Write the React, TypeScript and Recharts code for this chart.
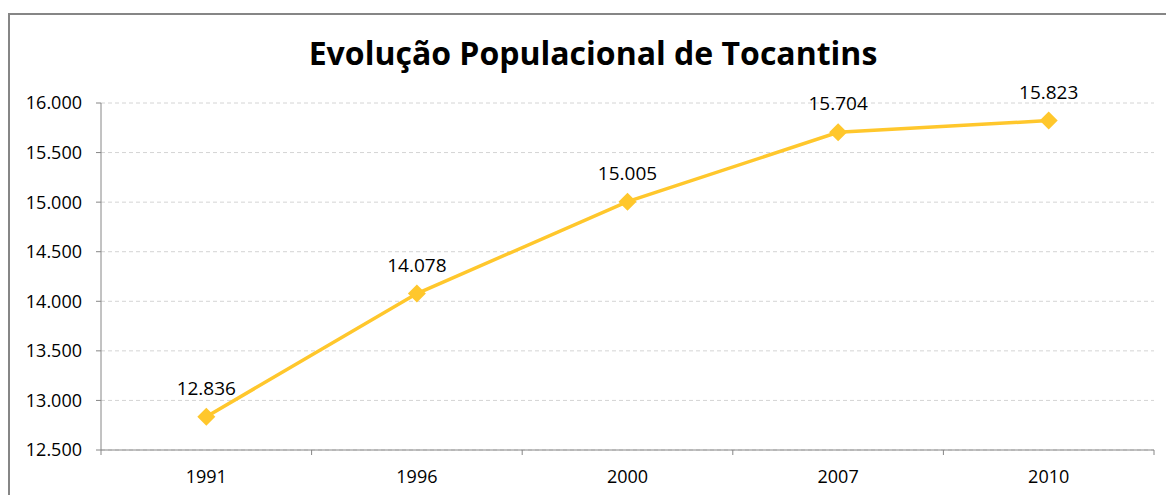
import React from 'react';
import { LineChart, Line, XAxis, YAxis, CartesianGrid, LabelList } from 'recharts';

const years = ['1991', '1996', '2000', '2007', '2010'];
const population = [12836, 14078, 15005, 15704, 15823];
const yTicks = [12500, 13000, 13500, 14000, 14500, 15000, 15500, 16000];
const title = 'Evolução Populacional de Tocantins';

const data = years.map((y, i) => ({ year: y, value: population[i] }));

const fmt = (v: number) => String(v).replace(/\B(?=(\d{3})+(?!\d))/g, '.');

const LINE = '#FFC72C';
const AXIS = '#868686';
const FONT = '"Open Sans", sans-serif';

const Diamond = (props: any) => {
  const { cx, cy, index } = props;
  if (cx == null || cy == null) return null;
  const r = 9;
  return (
    <polygon
      key={`d-${index}`}
      points={`${cx},${cy - r} ${cx + r},${cy} ${cx},${cy + r} ${cx - r},${cy}`}
      fill={LINE}
    />
  );
};

const XTick = (props: any) => {
  const { x, y, payload, index } = props;
  const off = payload && payload.offset ? payload.offset : 0;
  return (
    <g>
      <line x1={x - off} y1={y} x2={x - off} y2={y + 5} stroke={AXIS} strokeWidth={1} />
      {index === years.length - 1 && (
        <line x1={x + off} y1={y} x2={x + off} y2={y + 5} stroke={AXIS} strokeWidth={1} />
      )}
      <text x={x} y={y + 33} textAnchor="middle" fontSize={18} fontFamily={FONT} fill="#000">
        {payload.value}
      </text>
    </g>
  );
};

const PointLabel = (props: any) => {
  const { x, y, value } = props;
  return (
    <text x={x} y={y - 22} textAnchor="middle" fontSize={19} fontFamily={FONT} fill="#000">
      {fmt(value)}
    </text>
  );
};

export default function App() {
  return (
    <>
      <style>{`body{margin:0}`}</style>
      <div
        style={{
          position: 'absolute',
          left: 8,
          top: 13,
          width: 1158,
          height: 482,
          borderLeft: `2px solid ${AXIS}`,
          borderTop: `2px solid ${AXIS}`,
          boxSizing: 'border-box',
          background: '#fff',
        }}
      >
        <div
          style={{
            position: 'absolute',
            left: 0,
            top: 16,
            width: 1166,
            textAlign: 'center',
            fontFamily: FONT,
            fontWeight: 700,
            fontSize: 32,
            lineHeight: '44px',
            color: '#000',
            whiteSpace: 'nowrap',
          }}
        >
          {title}
        </div>
        <LineChart
          width={1156}
          height={480}
          data={data}
          margin={{ top: 88, right: 12, bottom: 0, left: 0 }}
        >
          <CartesianGrid vertical={false} stroke="#D4D4D4" strokeDasharray="4 3" />
          <XAxis
            dataKey="year"
            scale="band"
            height={45}
            stroke={AXIS}
            tickLine={false}
            tickSize={0}
            tickMargin={0}
            tick={<XTick />}
            interval={0}
          />
          <YAxis
            width={91}
            domain={[12500, 16000]}
            ticks={yTicks}
            tickFormatter={fmt}
            stroke={AXIS}
            tickSize={5}
            tickMargin={14}
            tick={{ fill: '#000', fontSize: 18, fontFamily: FONT }}
            allowDataOverflow
          />
          <Line
            type="linear"
            dataKey="value"
            stroke={LINE}
            strokeWidth={3.5}
            dot={<Diamond />}
            activeDot={false}
            isAnimationActive={false}
          >
            <LabelList dataKey="value" content={<PointLabel />} />
          </Line>
        </LineChart>
      </div>
    </>
  );
}
